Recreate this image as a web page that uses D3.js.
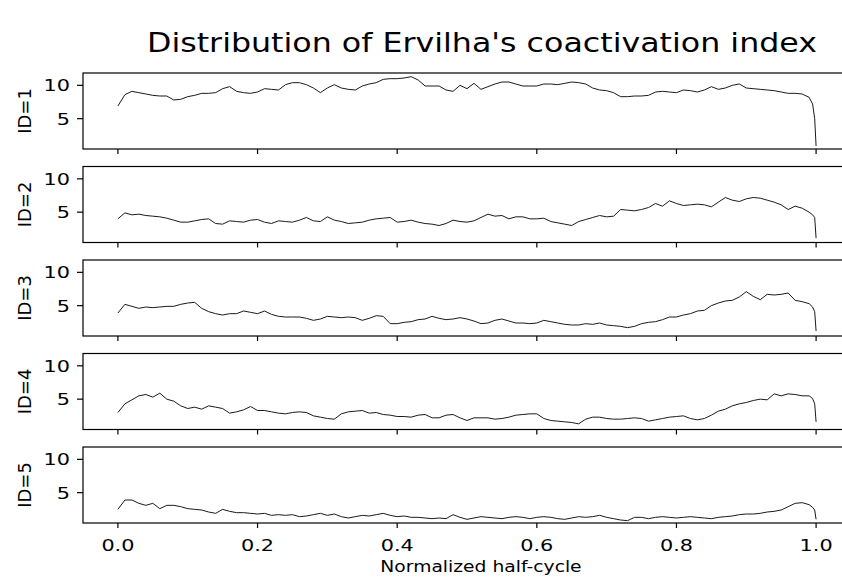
<!DOCTYPE html>
<html>
<head>
<meta charset="utf-8">
<title>Coactivation index</title>
<script src="https://d3js.org/d3.v7.min.js"></script>
<style>
body { margin: 0; background: #fff; }
text { font-family: "DejaVu Sans", sans-serif; fill: #000; }
</style>
</head>
<body>
<svg width="842" height="577"></svg>
<script>
// normalized half-cycle sample points
var xs = [0.00,0.01,0.02,0.03,0.04,0.05,0.06,0.07,0.08,0.09,
  0.10,0.11,0.12,0.13,0.14,0.15,0.16,0.17,0.18,0.19,
  0.20,0.21,0.22,0.23,0.24,0.25,0.26,0.27,0.28,0.29,
  0.30,0.31,0.32,0.33,0.34,0.35,0.36,0.37,0.38,0.39,
  0.40,0.41,0.42,0.43,0.44,0.45,0.46,0.47,0.48,0.49,
  0.50,0.51,0.52,0.53,0.54,0.55,0.56,0.57,0.58,0.59,
  0.60,0.61,0.62,0.63,0.64,0.65,0.66,0.67,0.68,0.69,
  0.70,0.71,0.72,0.73,0.74,0.75,0.76,0.77,0.78,0.79,
  0.80,0.81,0.82,0.83,0.84,0.85,0.86,0.87,0.88,0.89,
  0.90,0.91,0.92,0.93,0.94,0.95,0.96,0.97,0.98,0.99,
  0.995,0.998,1.00];

var id1 = [6.9,8.6,9.1,8.9,8.7,8.5,8.4,8.4,7.8,7.9,
  8.3,8.5,8.8,8.8,8.9,9.5,9.8,9.1,8.9,8.8,
  9.0,9.5,9.4,9.3,10.1,10.4,10.4,10.1,9.6,8.9,
  9.6,10.1,9.6,9.4,9.3,9.9,10.2,10.4,10.9,11.0,
  11.0,11.1,11.3,10.8,9.9,9.9,9.9,9.3,9.1,10.0,
  9.5,10.3,9.4,9.8,10.2,10.5,10.5,10.2,9.9,9.9,
  9.9,10.2,10.2,10.1,10.3,10.5,10.4,10.2,9.6,9.3,
  9.2,8.9,8.3,8.3,8.4,8.4,8.5,9.0,9.1,9.0,
  8.9,9.3,9.2,9.0,9.3,9.8,9.4,9.6,10.0,10.2,
  9.6,9.5,9.4,9.3,9.2,9.0,8.8,8.8,8.7,8.2,
  7.2,5.0,0.9];

var id2 = [4.0,4.9,4.6,4.7,4.5,4.4,4.3,4.1,3.8,3.5,
  3.5,3.7,3.9,4.0,3.3,3.2,3.7,3.6,3.5,3.8,
  3.9,3.5,3.3,3.7,3.6,3.5,3.8,4.2,3.7,3.6,
  4.3,3.8,3.6,3.3,3.4,3.5,3.8,4.0,4.1,4.2,
  3.5,3.6,3.8,3.5,3.3,3.2,3.0,3.3,3.8,3.6,
  3.5,3.7,4.2,4.7,4.4,4.5,4.0,4.3,4.3,4.0,
  4.0,4.1,3.6,3.4,3.2,3.0,3.6,3.9,4.2,4.5,
  4.3,4.4,5.4,5.3,5.2,5.4,5.7,6.3,5.9,6.7,
  6.3,6.0,6.1,6.2,6.1,5.8,6.5,7.2,6.8,6.6,
  7.0,7.2,7.1,6.8,6.5,6.1,5.4,5.9,5.6,5.0,
  4.6,4.2,1.1];

var id3 = [3.9,5.2,4.9,4.6,4.8,4.7,4.8,4.9,4.9,5.2,
  5.4,5.5,4.6,4.1,3.8,3.6,3.8,3.8,4.2,4.0,
  3.8,4.2,3.7,3.4,3.3,3.3,3.3,3.1,2.8,3.0,
  3.4,3.3,3.2,3.3,3.2,2.8,3.1,3.5,3.4,2.3,
  2.3,2.5,2.6,2.9,3.0,3.4,3.1,2.9,3.0,3.2,
  3.0,2.7,2.3,2.4,2.8,3.0,2.7,2.4,2.4,2.3,
  2.4,2.8,2.6,2.4,2.2,2.1,2.1,2.3,2.2,2.4,
  2.1,2.0,1.9,1.7,1.9,2.3,2.5,2.6,2.9,3.3,
  3.3,3.6,3.8,4.2,4.3,5.0,5.4,5.7,5.8,6.3,
  7.1,6.4,5.9,6.7,6.6,6.7,6.9,5.8,5.6,5.3,
  4.8,4.1,1.2];

var id4 = [3.0,4.3,4.9,5.5,5.7,5.3,5.9,5.0,4.7,4.0,
  3.6,3.8,3.5,4.0,3.8,3.6,2.9,3.1,3.4,3.9,
  3.3,3.3,3.1,2.9,2.8,3.0,3.1,3.0,2.5,2.3,
  2.1,2.0,2.8,3.1,3.2,3.3,2.9,3.0,2.7,2.6,
  2.4,2.4,2.3,2.6,2.7,2.2,2.2,2.6,2.7,2.2,
  1.8,2.2,2.2,2.2,2.0,2.1,2.3,2.6,2.7,2.8,
  2.8,2.1,1.8,1.7,1.6,1.5,1.3,2.0,2.3,2.3,
  2.1,2.0,2.0,2.1,2.2,2.1,1.7,1.9,2.1,2.3,
  2.4,2.5,2.1,1.9,2.1,2.6,3.2,3.5,4.0,4.3,
  4.5,4.8,5.0,4.9,5.8,5.5,5.8,5.7,5.5,5.5,
  5.1,4.3,1.6];

var id5 = [2.5,3.9,3.9,3.4,3.1,3.4,2.6,3.1,3.1,2.9,
  2.6,2.5,2.4,2.1,1.9,2.5,2.2,2.0,2.0,1.9,
  1.8,1.9,1.6,1.7,1.6,1.7,1.4,1.5,1.7,1.9,
  1.6,1.8,1.4,1.2,1.4,1.6,1.5,1.7,1.9,1.6,
  1.4,1.5,1.3,1.3,1.2,1.1,1.2,1.1,1.7,1.3,
  1.0,1.2,1.4,1.3,1.2,1.1,1.3,1.4,1.3,1.1,
  1.3,1.4,1.3,1.1,1.0,1.2,1.4,1.3,1.4,1.6,
  1.3,1.1,0.9,0.8,1.3,1.3,1.1,1.3,1.4,1.3,
  1.2,1.3,1.4,1.3,1.2,1.1,1.3,1.4,1.5,1.7,
  1.8,1.8,1.9,2.1,2.2,2.4,2.9,3.4,3.5,3.2,
  2.8,2.4,1.0];

var seriesNames = ["ID=1", "ID=2", "ID=3", "ID=4", "ID=5"];
var seriesValues = [id1, id2, id3, id4, id5];
var xTicks = [0.0, 0.2, 0.4, 0.6, 0.8, 1.0];
var yTicks = [5, 10];

var svg = d3.select("svg");
var stretch = 1.3;   // the picture is wider than tall, text too

var left = 83, right = 851;
var top0 = 73, pitch = 93.5, ph = 76;

var x = d3.scaleLinear().domain([-0.05, 1.05]).range([left, right]);

// title
svg.append("text")
  .attr("x", 482).attr("y", 52)
  .attr("text-anchor", "middle")
  .attr("textLength", 670).attr("lengthAdjust", "spacingAndGlyphs")
  .style("font-size", "26px")
  .text("Distribution of Ervilha's coactivation index");

seriesNames.forEach(function(name, i) {
  var top = top0 + i * pitch;
  var y = d3.scaleLinear().domain([0.45, 11.85]).range([top + ph, top]);
  var g = svg.append("g");

  // line
  var pts = xs.map(function(v, k) { return [v, seriesValues[i][k]]; });
  g.append("path")
    .datum(pts)
    .attr("d", d3.line().x(function(d){ return x(d[0]); }).y(function(d){ return y(d[1]); }))
    .style("fill", "none")
    .style("stroke", "#1a1a1a")
    .style("stroke-width", 1)
    .style("stroke-linejoin", "round");

  // frame
  g.append("rect")
    .attr("x", left).attr("y", top)
    .attr("width", right - left).attr("height", ph)
    .style("fill", "none").style("stroke", "#000").style("stroke-width", 1.2);

  // y ticks
  yTicks.forEach(function(t) {
    g.append("line")
      .attr("x1", left - 6).attr("x2", left)
      .attr("y1", y(t)).attr("y2", y(t))
      .style("stroke", "#000").style("stroke-width", 1.2);
    g.append("text")
      .attr("transform", "translate(" + (left - 13) + "," + (y(t) + 6) + ") scale(" + stretch + ",1)")
      .attr("text-anchor", "end")
      .style("font-size", "16px")
      .text(t);
  });

  // x ticks
  xTicks.forEach(function(t) {
    g.append("line")
      .attr("x1", x(t)).attr("x2", x(t))
      .attr("y1", top + ph).attr("y2", top + ph + 5)
      .style("stroke", "#000").style("stroke-width", 1.2);
    if (i == seriesNames.length - 1) {
      g.append("text")
        .attr("transform", "translate(" + x(t) + "," + (top + ph + 28) + ") scale(" + stretch + ",1)")
        .attr("text-anchor", "middle")
        .style("font-size", "16px")
        .text(t.toFixed(1));
    }
  });

  // y label
  g.append("text")
    .attr("transform", "translate(31," + (top + ph / 2) + ") rotate(-90)")
    .attr("text-anchor", "middle")
    .style("font-size", "18px")
    .text(name);
});

svg.append("text")
  .attr("transform", "translate(481,572) scale(1.17,1)")
  .attr("text-anchor", "middle")
  .style("font-size", "16px")
  .text("Normalized half-cycle");
</script>
</body>
</html>
